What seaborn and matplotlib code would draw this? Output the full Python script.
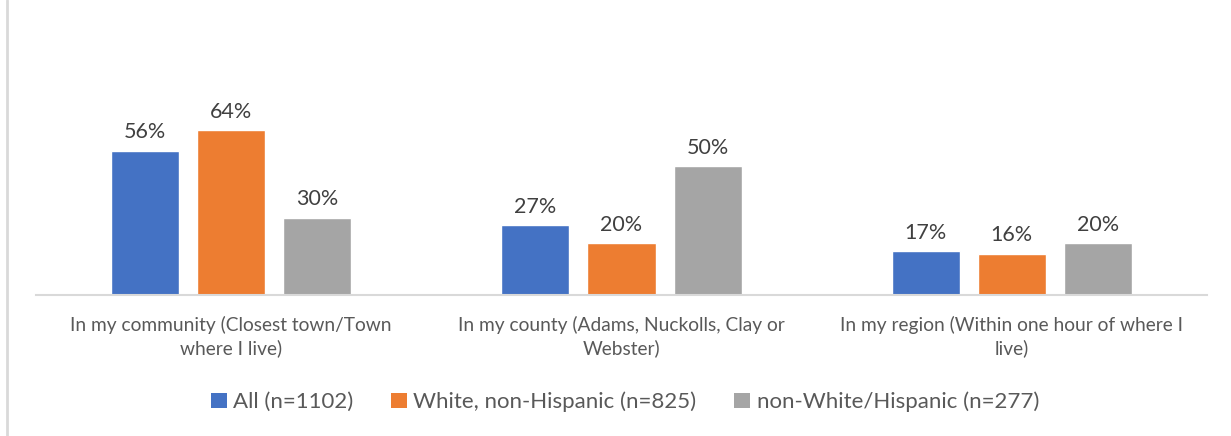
import matplotlib
matplotlib.use("Agg")
import matplotlib.pyplot as plt
from matplotlib.lines import Line2D
from matplotlib.patches import Patch
import seaborn as sns
import pandas as pd

# Survey data: share of respondents by location and group
locations = [
    "In my community (Closest town/Town\nwhere I live)",
    "In my county (Adams, Nuckolls, Clay or\nWebster)",
    "In my region (Within one hour of where I\nlive)",
]
groups = ["All (n=1102)", "White, non-Hispanic (n=825)", "non-White/Hispanic (n=277)"]
all_vals = [56, 27, 17]
white_vals = [64, 20, 16]
nonwhite_vals = [30, 50, 20]
colors = ["#4472C4", "#ED7D31", "#A5A5A5"]

df = pd.DataFrame({
    "location": locations * 3,
    "group": [g for g in groups for _ in locations],
    "value": all_vals + white_vals + nonwhite_vals,
})

sns.set_theme(style="white")
plt.rcParams["font.family"] = ["Lato", "DejaVu Sans"]
text_color = "#595959"
label_color = "#404040"

W, H = 1231, 436
fig = plt.figure(figsize=(W / 100, H / 100), dpi=100)
left, right, top, base = 36, 1207, 20, 295
ax = fig.add_axes([left / W, 1 - base / H, (right - left) / W, (base - top) / H])

sns.barplot(data=df, x="location", y="value", hue="group", hue_order=groups,
            palette=colors, width=0.662, gap=0.21, saturation=1,
            legend=False, ax=ax)

ax.set_ylim(0, (base - top) / 2.58)
ax.set_xlim(-0.5, 2.5)
for cont in ax.containers:
    ax.bar_label(cont, labels=[f"{v:.0f}%" for v in cont.datavalues],
                 padding=6, fontsize=15.5, color=label_color)

ax.set_xlabel("")
ax.set_ylabel("")
ax.set_yticks([])
ax.tick_params(axis="x", length=0, pad=15, labelsize=13.8, labelcolor=text_color)
for lbl in ax.get_xticklabels():
    lbl.set_linespacing(1.35)
for s in ["top", "right", "left"]:
    ax.spines[s].set_visible(False)
ax.spines["bottom"].set_color("#D9D9D9")
ax.spines["bottom"].set_linewidth(1.5)

handles = [Patch(facecolor=c, edgecolor="none") for c in colors]
fig.legend(handles, groups, loc="center", bbox_to_anchor=(625 / W, 1 - 402 / H),
           ncol=3, frameon=False, fontsize=16, labelcolor=text_color,
           handlelength=0.7, handleheight=0.7, handletextpad=0.3,
           columnspacing=1.7)

# chart-area frame edge on the left
fig.add_artist(Line2D([7 / W, 7 / W], [0, 1], color="#D9D9D9", lw=2,
                      transform=fig.transFigure))

fig.savefig("out.png", dpi=100, facecolor="white")
